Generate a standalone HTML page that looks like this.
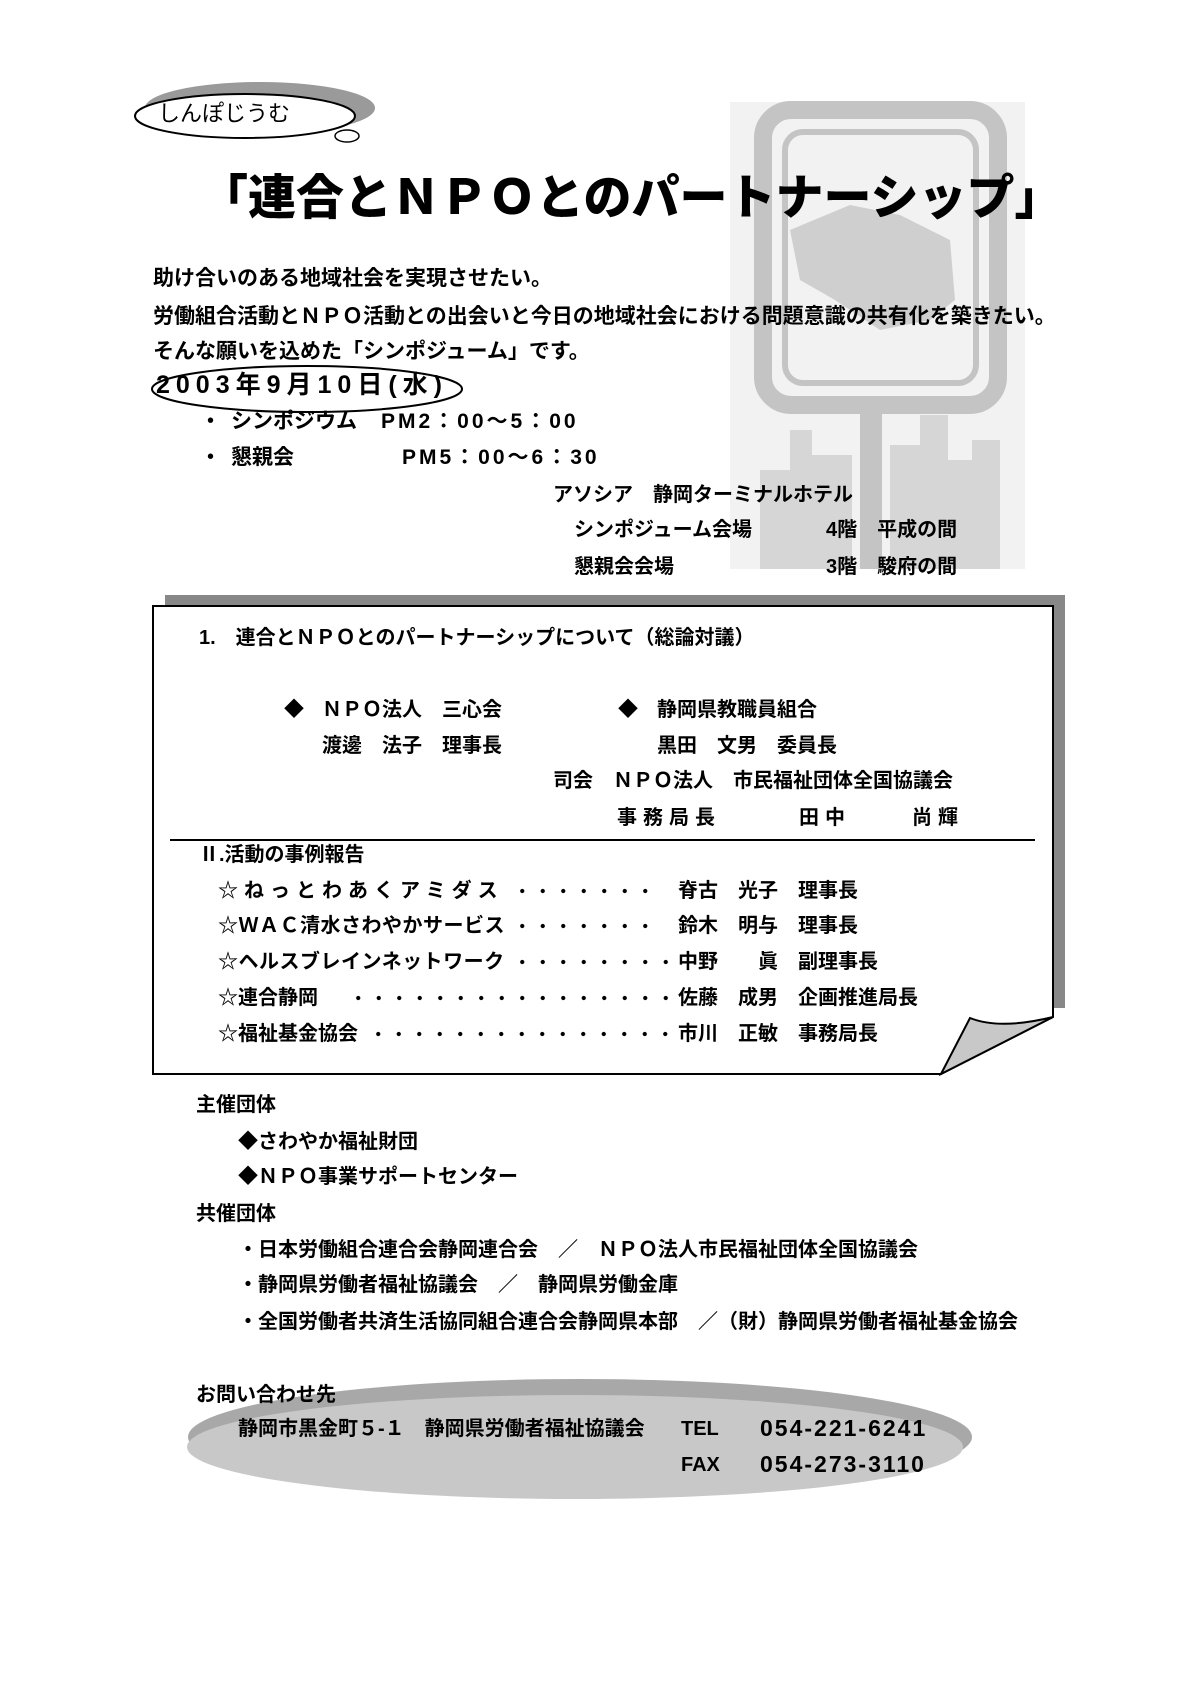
<!DOCTYPE html>
<html><head><meta charset="utf-8">
<style>
html,body{margin:0;padding:0;background:#fff}
#p{position:relative;width:1190px;height:1683px;overflow:hidden;background:#fff;font-family:"Liberation Sans","Noto Sans CJK JP",sans-serif;font-weight:bold;color:#000}
.t{position:absolute;white-space:nowrap;line-height:1}
.f21{font-size:21px}
.f20{font-size:20px}
.dots{position:absolute;height:20px;background-image:radial-gradient(circle,#000 1.8px,transparent 2.4px);background-size:20.5px 20px;background-repeat:repeat-x}
</style></head><body><div id="p">

<svg style="position:absolute;left:0;top:0" width="1190" height="1683">
 <rect x="730" y="102" width="295" height="467" fill="#f2f2f2"/>
 <rect x="763" y="110" width="235" height="295" rx="28" fill="none" stroke="#c4c4c4" stroke-width="18"/>
 <rect x="785" y="132" width="191" height="251" rx="18" fill="none" stroke="#c4c4c4" stroke-width="6"/>
 <rect x="860" y="405" width="22" height="164" fill="#c4c4c4"/>
 <path d="M790 230 L850 205 L900 215 L950 240 L955 300 L930 320 L880 330 L835 300 L800 280 Z" fill="#cfcfcf"/>
 <g fill="#d6d6d6">
  <rect x="760" y="470" width="30" height="99"/>
  <rect x="790" y="430" width="22" height="139"/>
  <rect x="812" y="455" width="40" height="114"/>
  <rect x="890" y="445" width="30" height="124"/>
  <rect x="920" y="415" width="28" height="154"/>
  <rect x="948" y="460" width="24" height="109"/>
  <rect x="972" y="440" width="28" height="129"/>
 </g>
</svg>

<svg style="position:absolute;left:125px;top:78px" width="270" height="80">
 <ellipse cx="135" cy="30" rx="115" ry="26" fill="#9a9a9a"/>
 <ellipse cx="120" cy="38" rx="110" ry="22" fill="#fff" stroke="#000" stroke-width="2"/>
 <ellipse cx="222" cy="58" rx="12" ry="6" fill="#fff" stroke="#000" stroke-width="1.5"/>
</svg>
<div class="t" style="left:158px;top:103px;font-size:22px;font-weight:normal">しんぽじうむ</div>

<div class="t" style="left:200px;top:175px;font-size:48px;font-weight:900">「連合とＮＰＯとのパートナーシップ」</div>

<div class="t f21" style="left:153px;top:268px">助け合いのある地域社会を実現させたい。</div>
<div class="t f21" style="left:153px;top:306px">労働組合活動とＮＰＯ活動との出会いと今日の地域社会における問題意識の共有化を築きたい。</div>
<div class="t f21" style="left:153px;top:341px">そんな願いを込めた「シンポジューム」です。</div>

<svg style="position:absolute;left:148px;top:363px" width="318" height="54"><ellipse cx="159" cy="26" rx="155" ry="23" fill="none" stroke="#000" stroke-width="2"/></svg>
<div class="t" style="left:156px;top:373px;font-size:25px;letter-spacing:6px">2003年9月10日(水)</div>

<div class="t f21" style="left:200px;top:411px">・</div>
<div class="t f21" style="left:231px;top:411px">シンポジウム</div>
<div class="t f21" style="left:381px;top:411px;letter-spacing:3px">PM2：00～5：00</div>
<div class="t f21" style="left:200px;top:447px">・</div>
<div class="t f21" style="left:231px;top:447px">懇親会</div>
<div class="t f21" style="left:402px;top:447px;letter-spacing:3px">PM5：00～6：30</div>
<div class="t f20" style="left:553px;top:485px">アソシア　静岡ターミナルホテル</div>
<div class="t f20" style="left:574px;top:520px">シンポジューム会場</div>
<div class="t f20" style="left:826px;top:520px">4階　平成の間</div>
<div class="t f20" style="left:574px;top:557px">懇親会会場</div>
<div class="t f20" style="left:826px;top:557px">3階　駿府の間</div>

<div style="position:absolute;left:165px;top:595px;width:900px;height:413px;background:#888"></div>
<svg style="position:absolute;left:0;top:0" width="1190" height="1683">
 <path d="M153 606 H1053 V1017 L941 1074 H153 Z" fill="#fff" stroke="#000" stroke-width="2"/>
 <path d="M941 1074 L970 1018 Q1000 1030 1053 1017 Z" fill="#c8c8c8" stroke="#000" stroke-width="2"/>
 <line x1="170" y1="840" x2="1035" y2="840" stroke="#000" stroke-width="2"/>
</svg>
<div class="t f20" style="left:199px;top:628px">1.　連合とＮＰＯとのパートナーシップについて（総論対議）</div>
<div class="t f20" style="left:284px;top:700px">◆</div>
<div class="t f20" style="left:322px;top:700px">ＮＰＯ法人　三心会</div>
<div class="t f20" style="left:618px;top:700px">◆</div>
<div class="t f20" style="left:657px;top:700px">静岡県教職員組合</div>
<div class="t f20" style="left:322px;top:736px">渡邊　法子　理事長</div>
<div class="t f20" style="left:657px;top:736px">黒田　文男　委員長</div>
<div class="t f20" style="left:553px;top:771px">司会　ＮＰＯ法人　市民福祉団体全国協議会</div>
<div class="t f20" style="left:617px;top:808px;letter-spacing:6px">事務局長</div>
<div class="t f20" style="left:799px;top:808px;letter-spacing:6px">田中</div>
<div class="t f20" style="left:912px;top:808px;letter-spacing:6px">尚輝</div>
<div class="t f20" style="left:199px;top:845px">Ⅱ.活動の事例報告</div>

<div class="t f20" style="left:218px;top:881px;letter-spacing:6px">☆ねっとわあくアミダス</div>
<div class="dots" style="left:512px;top:881px;width:148px"></div>
<div class="t f20" style="left:678px;top:881px">脊古　光子　理事長</div>
<div class="t f20" style="left:218px;top:916px;letter-spacing:0.5px">☆ＷＡＣ清水さわやかサービス</div>
<div class="dots" style="left:512px;top:916px;width:148px"></div>
<div class="t f20" style="left:678px;top:916px">鈴木　明与　理事長</div>
<div class="t f20" style="left:218px;top:952px;letter-spacing:0.5px">☆ヘルスブレインネットワーク</div>
<div class="dots" style="left:512px;top:952px;width:166px"></div>
<div class="t f20" style="left:678px;top:952px">中野　　眞　副理事長</div>
<div class="t f20" style="left:218px;top:988px">☆連合静岡</div>
<div class="dots" style="left:348px;top:988px;width:330px"></div>
<div class="t f20" style="left:678px;top:988px">佐藤　成男　企画推進局長</div>
<div class="t f20" style="left:218px;top:1024px">☆福祉基金協会</div>
<div class="dots" style="left:368px;top:1024px;width:310px"></div>
<div class="t f20" style="left:678px;top:1024px">市川　正敏　事務局長</div>

<div class="t f20" style="left:196px;top:1095px">主催団体</div>
<div class="t f20" style="left:238px;top:1132px">◆さわやか福祉財団</div>
<div class="t f20" style="left:238px;top:1167px">◆ＮＰＯ事業サポートセンター</div>
<div class="t f20" style="left:196px;top:1204px">共催団体</div>
<div class="t f20" style="left:238px;top:1240px">・日本労働組合連合会静岡連合会　／　ＮＰＯ法人市民福祉団体全国協議会</div>
<div class="t f20" style="left:238px;top:1275px">・静岡県労働者福祉協議会　／　静岡県労働金庫</div>
<div class="t f20" style="left:238px;top:1312px">・全国労働者共済生活協同組合連合会静岡県本部　／（財）静岡県労働者福祉基金協会</div>

<svg style="position:absolute;left:180px;top:1375px" width="800" height="135">
 <ellipse cx="400" cy="62" rx="392" ry="58" fill="#a8a8a8"/>
 <ellipse cx="395" cy="72" rx="388" ry="52" fill="#c8c8c8"/>
</svg>
<div class="t f20" style="left:196px;top:1385px">お問い合わせ先</div>
<div class="t f20" style="left:238px;top:1419px">静岡市黒金町５-１　静岡県労働者福祉協議会</div>
<div class="t f20" style="left:681px;top:1419px">TEL</div>
<div class="t" style="left:760px;top:1417px;font-size:23px;letter-spacing:2px">054-221-6241</div>
<div class="t f20" style="left:681px;top:1455px">FAX</div>
<div class="t" style="left:760px;top:1453px;font-size:23px;letter-spacing:2px">054-273-3110</div>

</div></body></html>
